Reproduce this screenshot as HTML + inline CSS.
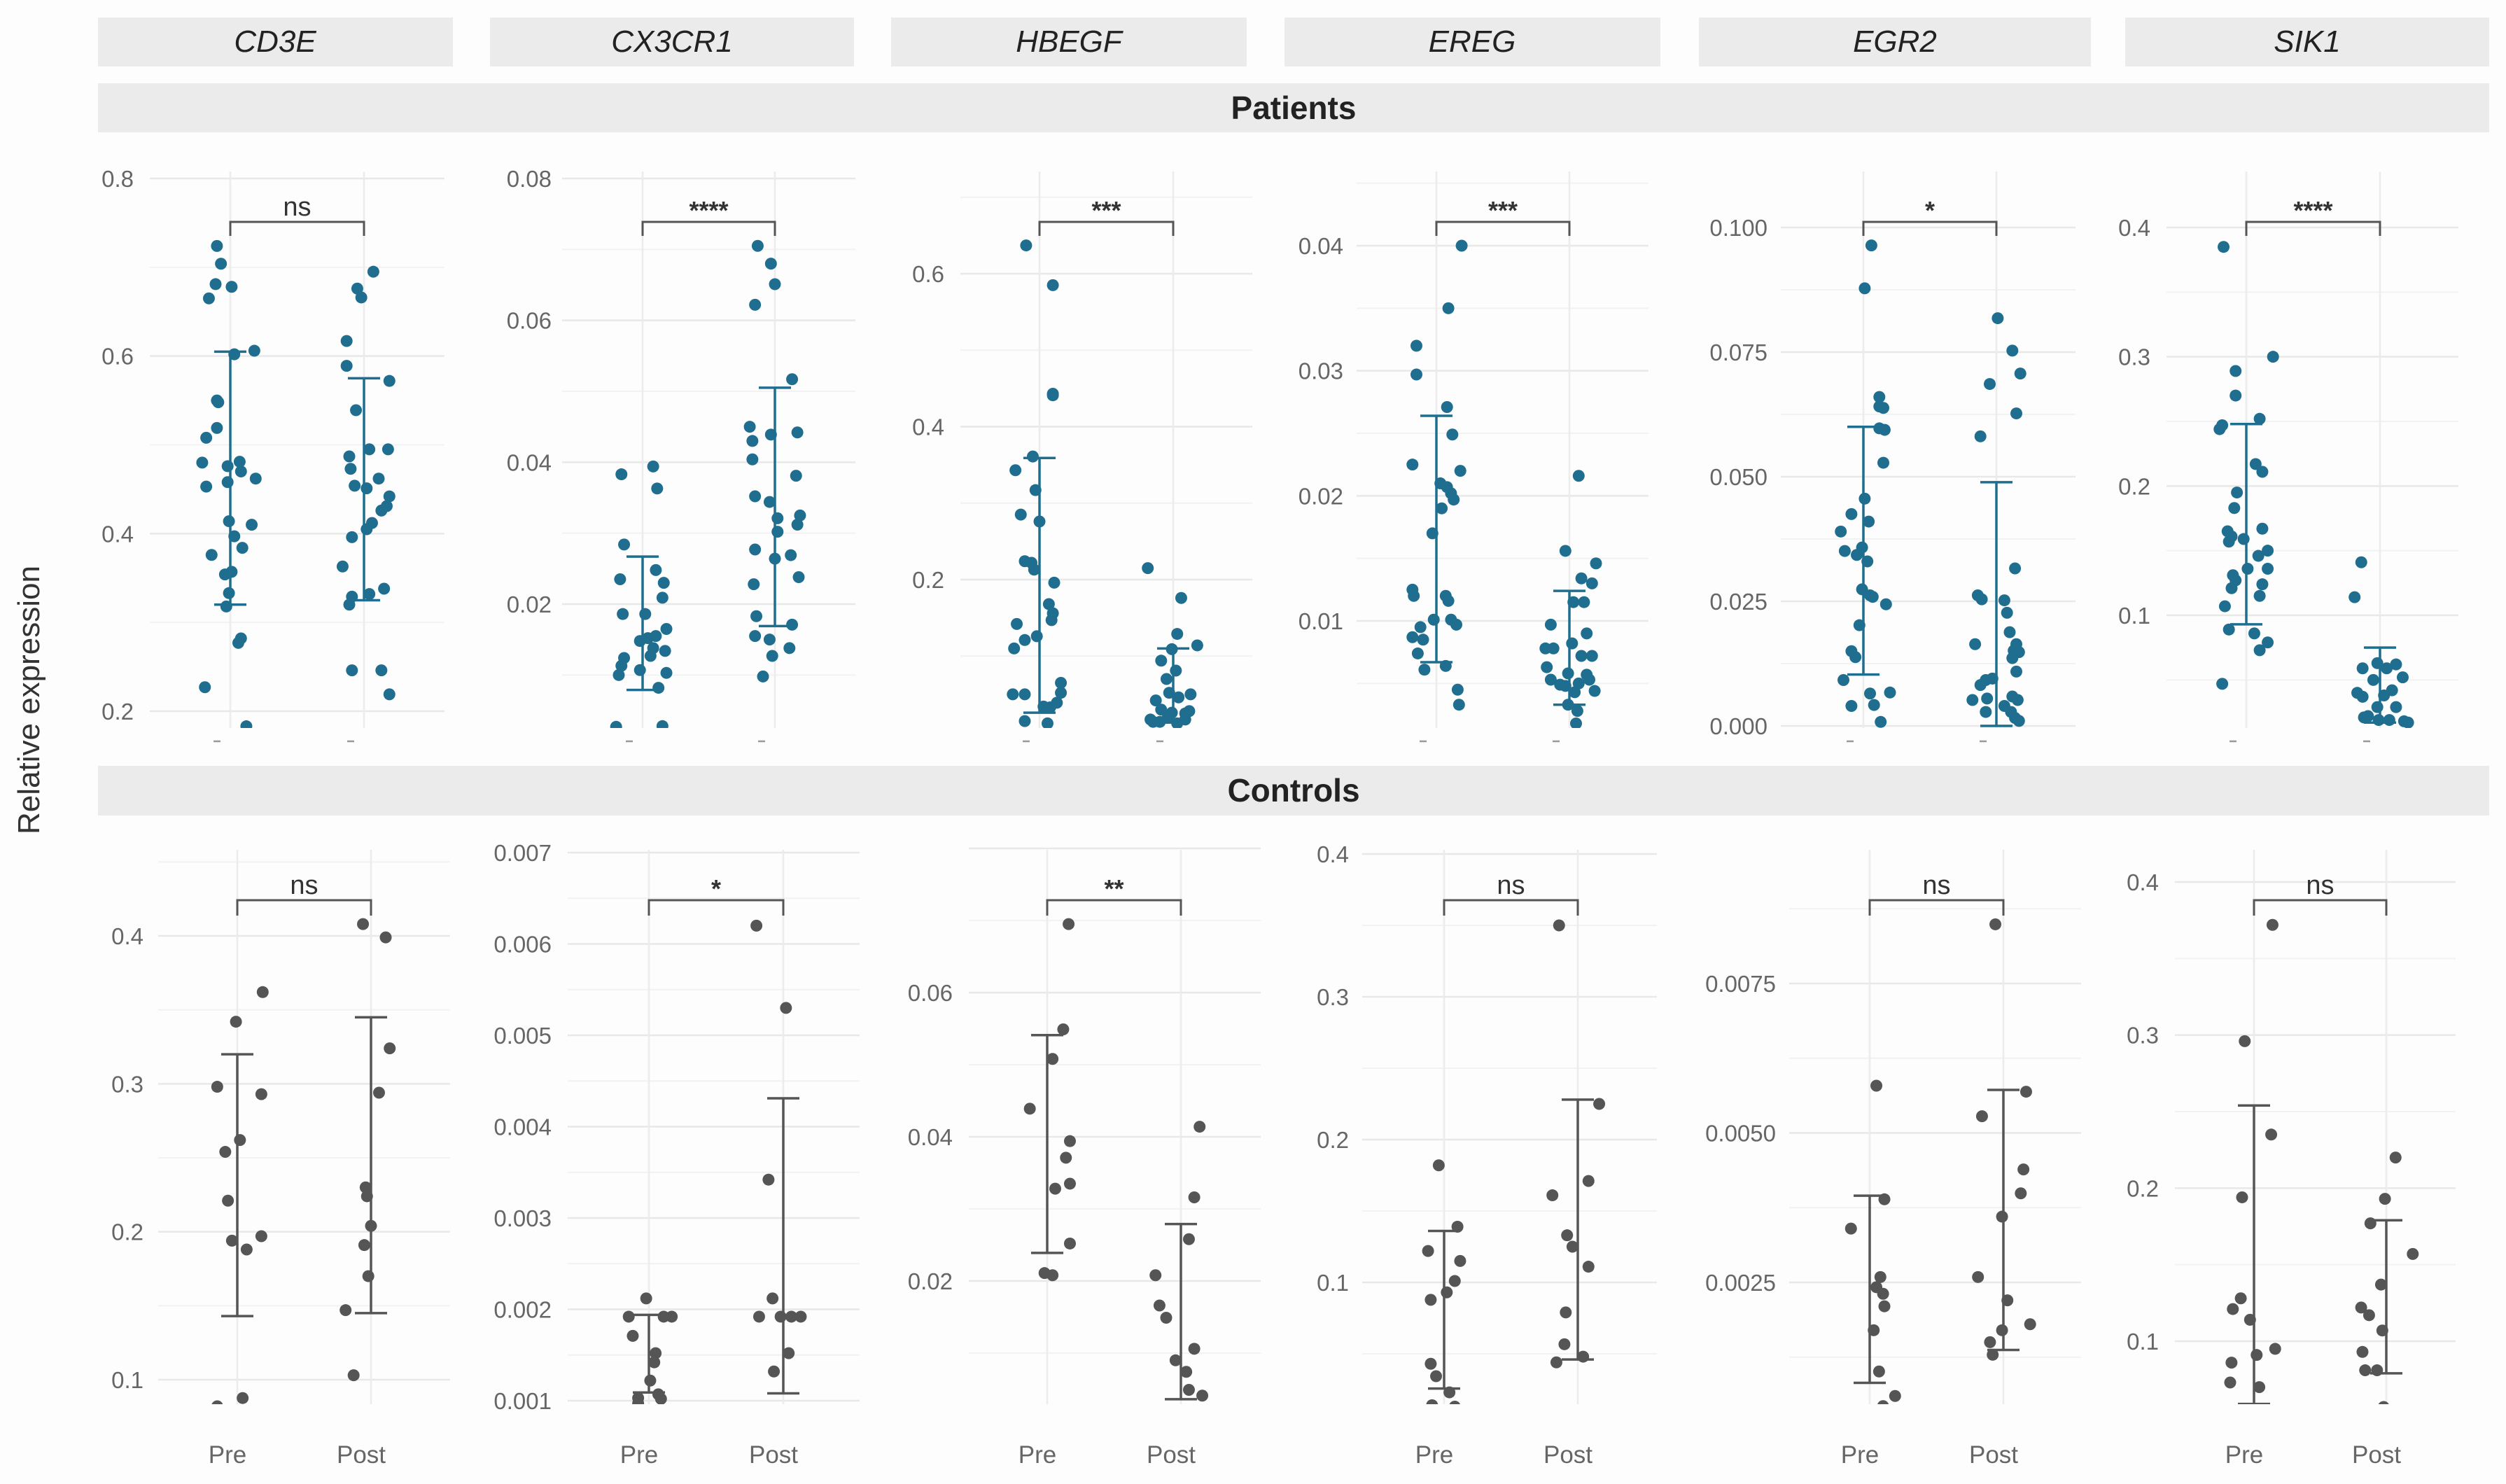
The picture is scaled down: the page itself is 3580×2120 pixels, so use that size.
<!DOCTYPE html>
<html><head><meta charset="utf-8">
<style>
html,body{margin:0;padding:0;background:#fdfdfd;}
svg{display:block;font-family:"Liberation Sans","DejaVu Sans",sans-serif;}
</style></head>
<body>
<svg id="chart" xmlns="http://www.w3.org/2000/svg" width="3580" height="2120" viewBox="0 0 3580 2120">
<rect x="0" y="0" width="3580" height="2120" fill="#fdfdfd"/>
<g>
<rect x="140" y="25" width="507" height="70" fill="#ebebeb"/>
<text x="393" y="74" text-anchor="middle" font-size="44" font-style="italic" fill="#222">CD3E</text>
<rect x="700" y="25" width="520" height="70" fill="#ebebeb"/>
<text x="960" y="74" text-anchor="middle" font-size="44" font-style="italic" fill="#222">CX3CR1</text>
<rect x="1273" y="25" width="508" height="70" fill="#ebebeb"/>
<text x="1527" y="74" text-anchor="middle" font-size="44" font-style="italic" fill="#222">HBEGF</text>
<rect x="1835" y="25" width="537" height="70" fill="#ebebeb"/>
<text x="2103" y="74" text-anchor="middle" font-size="44" font-style="italic" fill="#222">EREG</text>
<rect x="2427" y="25" width="560" height="70" fill="#ebebeb"/>
<text x="2707" y="74" text-anchor="middle" font-size="44" font-style="italic" fill="#222">EGR2</text>
<rect x="3036" y="25" width="520" height="70" fill="#ebebeb"/>
<text x="3296" y="74" text-anchor="middle" font-size="44" font-style="italic" fill="#222">SIK1</text>
<rect x="140" y="119" width="3416" height="70" fill="#ebebeb"/>
<text x="1848" y="170" text-anchor="middle" font-size="46" font-weight="bold" fill="#222">Patients</text>
<rect x="140" y="1094" width="3416" height="71" fill="#ebebeb"/>
<text x="1848" y="1145" text-anchor="middle" font-size="46" font-weight="bold" fill="#222">Controls</text>
</g>
<text x="0" y="0" transform="translate(56,1000) rotate(-90)" text-anchor="middle" font-size="44" fill="#333">Relative expression</text>
<g id="panels"></g>
</svg>
<script>
// ===== data =====
const groups = ["Pre", "Post"];
const sigLabels = ["ns","****","***","***","*","****","ns","*","**","ns","ns","ns"];
const panelNames = ["cd3e-patients","cx3cr1-patients","hbegf-patients","ereg-patients","egr2-patients","sik1-patients","cd3e-controls","cx3cr1-controls","hbegf-controls","ereg-controls","egr2-controls","sik1-controls"];
const tickValues = [
 [0.2,0.4,0.6,0.8],[0.02,0.04,0.06,0.08],[0.2,0.4,0.6],[0.01,0.02,0.03,0.04],[0,0.025,0.05,0.075,0.1],[0.1,0.2,0.3,0.4],
 [0.1,0.2,0.3,0.4],[0.001,0.002,0.003,0.004,0.005,0.006,0.007],[0.02,0.04,0.06],[0.1,0.2,0.3,0.4],[0.0025,0.005,0.0075],[0.1,0.2,0.3,0.4]];
const tickLabels = [
 ["0.2","0.4","0.6","0.8"],["0.02","0.04","0.06","0.08"],["0.2","0.4","0.6"],["0.01","0.02","0.03","0.04"],["0.000","0.025","0.050","0.075","0.100"],["0.1","0.2","0.3","0.4"],
 ["0.1","0.2","0.3","0.4"],["0.001","0.002","0.003","0.004","0.005","0.006","0.007"],["0.02","0.04","0.06"],["0.1","0.2","0.3","0.4"],["0.0025","0.0050","0.0075"],["0.1","0.2","0.3","0.4"]];

const p1PreV=[.724,.704,.681,.678,.665,.602,.606,.55,.548,.519,.508,.48,.481,.476,.47,.462,.453,.458,.414,.41,.397,.384,.376,.354,.357,.333,.318,.282,.277,.227,.183];
const p1PreJ=[-.10,-.07,-.11,.01,-.16,.03,.18,-.10,-.09,-.10,-.18,-.21,.07,-.02,.08,.19,-.18,-.02,-.01,.16,.03,.09,-.14,-.04,.01,-.01,-.03,.08,.06,-.19,.12];
const p1PostV=[.695,.676,.666,.617,.589,.572,.539,.487,.495,.495,.473,.454,.451,.462,.442,.431,.426,.412,.405,.396,.363,.338,.332,.329,.32,.246,.246,.219];
const p1PostJ=[.07,-.05,-.02,-.13,-.13,.19,-.06,-.11,.04,.18,-.10,-.07,.02,.11,.19,.17,.13,.06,.02,-.09,-.16,.15,.04,-.09,-.11,-.09,.13,.19];
const p2PreV=[.0383,.0394,.0363,.0284,.0235,.0248,.023,.0209,.0186,.0186,.0165,.0148,.0152,.0155,.0138,.0134,.0127,.0124,.0113,.01,.0107,.0103,.0082,.0027,.0028];
const p2PreJ=[-.16,.08,.11,-.14,-.17,.10,.16,.15,-.15,.02,.18,-.02,.04,.10,.08,.17,.06,-.14,-.16,-.18,-.02,.18,.12,-.2,.15];
const p2PostV=[.0705,.068,.0651,.0622,.0517,.045,.0439,.0442,.043,.0404,.0381,.0352,.0344,.0321,.0325,.0312,.0302,.0277,.0269,.0264,.0238,.0228,.0183,.0171,.0155,.015,.0138,.0127,.0098];
const p2PostJ=[-.13,-.03,0,-.15,.13,-.19,-.03,.17,-.17,-.17,.16,-.15,-.04,.02,.19,.17,.02,-.15,.12,0,.18,-.16,-.14,.13,-.15,-.04,.11,-.02,-.09];
const p3PreV=[.637,.585,.443,.441,.361,.343,.317,.285,.276,.224,.222,.213,.196,.168,.156,.147,.142,.126,.121,.11,.05,.05,.065,.052,.039,.034,.033,.015,.012];
const p3PreJ=[-.10,.10,.10,.10,-.05,-.18,-.03,-.14,0,-.11,-.06,-.04,.11,.07,.10,.09,-.17,-.02,-.11,-.19,-.20,-.11,.16,.16,.13,.03,.08,-.11,.06];
const p3PostV=[.215,.176,.129,.114,.109,.094,.081,.07,.052,.05,.042,.046,.03,.026,.025,.028,.017,.014,.012,.017,.02,.014];
const p3PostJ=[-.19,.06,.03,.18,-.01,-.09,.02,-.05,-.03,.13,-.13,.04,-.09,-.01,.09,.12,-.17,-.10,.03,.09,-.04,-.15];
const p4PreV=[.04,.035,.032,.0297,.0271,.0249,.0225,.022,.021,.0207,.0202,.0197,.019,.017,.0125,.012,.012,.0116,.0101,.0101,.0097,.0095,.0087,.0085,.0074,.0061,.0064,.0045,.0033];
const p4PreJ=[.19,.09,-.15,-.15,.08,.12,-.18,.18,.03,.08,.11,.13,.04,-.03,-.18,-.17,.07,.09,-.02,.11,.15,-.12,-.18,-.10,-.14,-.09,.07,.16,.17];
const p4PostV=[.0216,.0156,.0146,.0134,.013,.0115,.0115,.0097,.009,.0082,.0078,.0078,.0072,.0072,.0063,.0058,.0057,.0053,.0049,.005,.0053,.0048,.0043,.0044,.0033,.0028,.0018];
const p4PostJ=[.07,-.03,.20,.09,.17,.03,.11,-.14,.13,.02,-.18,-.12,.09,.17,-.17,-.01,.13,-.14,-.07,.07,.15,-.03,.04,.19,-.01,.06,.05];
const p5PreV=[.0964,.0878,.066,.0638,.0641,.0594,.0597,.0528,.0456,.0425,.041,.039,.0351,.0358,.0343,.033,.0274,.0262,.0259,.0244,.0202,.015,.0138,.0092,.0065,.0067,.004,.0042,.0008];
const p5PreJ=[.06,.01,.12,.15,.12,.16,.12,.15,.01,-.09,.04,-.17,-.14,-.01,-.05,.03,-.01,.05,.07,.17,-.03,-.09,-.06,-.15,.05,.2,-.09,.08,.13];
const p5PostV=[.0818,.0753,.0707,.0686,.0627,.0581,.0316,.0262,.0254,.0252,.0227,.0188,.0164,.0164,.0151,.0148,.0136,.0109,.0092,.0095,.0082,.0059,.0052,.0055,.0052,.004,.0028,.0028,.0016,.001];
const p5PostJ=[.01,.12,.18,-.05,.15,-.12,.14,-.14,-.11,.06,.08,.10,.15,-.16,.13,.17,.12,.15,-.08,-.03,-.12,.12,-.18,-.07,.16,.06,-.08,.11,.14,.17];
const p6PreV=[.385,.30,.289,.27,.252,.247,.244,.217,.211,.195,.183,.165,.161,.167,.159,.15,.146,.157,.136,.136,.131,.127,.124,.121,.115,.107,.089,.086,.079,.073,.047];
const p6PreJ=[-.17,.20,-.08,-.08,.10,-.18,-.20,.07,.12,-.07,-.09,-.14,-.11,.12,-.02,.16,.09,-.13,.01,.16,-.10,-.08,.12,-.11,.10,-.16,-.13,.06,.16,.10,-.18];
const p6PostV=[.141,.114,.063,.062,.059,.059,.052,.05,.04,.042,.037,.038,.029,.029,.021,.019,.019,.018,.022,.017];
const p6PostJ=[-.14,-.19,-.02,.12,-.13,.05,.17,-.05,-.17,.09,-.13,.03,-.02,.12,-.12,-.01,.07,.18,-.09,.21];
const p7PreV=[.362,.342,.298,.293,.262,.254,.221,.194,.197,.188,.0876,.082];
const p7PreJ=[.19,-.01,-.15,.18,.02,-.09,-.07,-.04,.18,.07,.04,-.15];
const p7PostV=[.408,.399,.324,.294,.230,.224,.204,.191,.170,.147,.103];
const p7PostJ=[-.06,.11,.14,.06,-.04,-.03,0,-.05,-.02,-.19,-.13];
const p8PreV=[.00212,.00192,.00192,.00192,.00171,.00152,.00142,.00122,.00103,.00102,.00097,.00107];
const p8PreJ=[-.02,-.15,.11,.17,-.12,.05,.04,.01,-.08,.09,-.08,.07];
const p8PostV=[.0062,.0053,.00342,.00212,.00192,.00192,.00192,.00192,.00152,.00132];
const p8PostJ=[-.2,.02,-.11,-.08,-.18,-.02,.06,.13,.04,-.07];
const p9PreV=[.0695,.0549,.0508,.0439,.0394,.0371,.0328,.0335,.0252,.0211,.0208];
const p9PreJ=[.16,.12,.04,-.13,.17,.14,.06,.17,.17,-.02,.04];
const p9PostV=[.0414,.0316,.0258,.0208,.0166,.0149,.0106,.009,.0074,.0049,.0041];
const p9PostJ=[.14,.10,.06,-.19,-.16,-.11,.10,-.04,.04,.06,.16];
const p10PreV=[.182,.139,.122,.115,.101,.093,.0878,.043,.0343,.023,.014,.013];
const p10PreJ=[-.04,.10,-.12,.12,.08,.02,-.10,-.10,-.06,.04,-.09,.08];
const p10PostV=[.350,.225,.171,.161,.133,.125,.111,.079,.0567,.044,.048];
const p10PostJ=[-.14,.16,.08,-.19,-.08,-.04,.08,-.09,-.10,-.16,.04];
const p11PreV=[.00579,.00389,.0034,.00259,.00242,.00231,.0021,.0017,.00101,.0006,.00043];
const p11PreJ=[.05,.11,-.14,.08,.05,.10,.11,.03,.07,.19,.10];
const p11PostV=[.00849,.00569,.00528,.00439,.00399,.0036,.00259,.0022,.0018,.0017,.0015,.00129];
const p11PostJ=[-.06,.17,-.16,.15,.13,-.01,-.19,.03,.2,-.01,-.10,-.08];
const p12PreV=[.372,.296,.235,.194,.128,.121,.114,.095,.091,.086,.073,.07];
const p12PreJ=[.14,-.07,.13,-.09,-.10,-.16,-.03,.16,.02,-.17,-.18,.04];
const p12PostV=[.22,.193,.177,.157,.137,.122,.117,.107,.093,.081,.081,.057];
const p12PostJ=[.07,-.01,-.12,.20,-.04,-.19,-.13,-.03,-.18,-.16,-.07,-.02];

const preValues=[p1PreV,p2PreV,p3PreV,p4PreV,p5PreV,p6PreV,p7PreV,p8PreV,p9PreV,p10PreV,p11PreV,p12PreV];
const preJitter=[p1PreJ,p2PreJ,p3PreJ,p4PreJ,p5PreJ,p6PreJ,p7PreJ,p8PreJ,p9PreJ,p10PreJ,p11PreJ,p12PreJ];
const postValues=[p1PostV,p2PostV,p3PostV,p4PostV,p5PostV,p6PostV,p7PostV,p8PostV,p9PostV,p10PostV,p11PostV,p12PostV];
const postJitter=[p1PostJ,p2PostJ,p3PostJ,p4PostJ,p5PostJ,p6PostJ,p7PostJ,p8PostJ,p9PostJ,p10PostJ,p11PostJ,p12PostJ];
const preErrLow=[.32,.0079,.026,.0067,.0103,.093,.143,.00109,.0239,.0257,.00082,.059];
const preErrHigh=[.605,.0267,.359,.0264,.060,.248,.320,.00194,.0541,.136,.00395,.254];
const postErrLow=[.325,.0169,.013,.0033,0,.017,.145,.00108,.0036,.046,.00137,.079];
const postErrHigh=[.575,.0505,.11,.0124,.0489,.075,.345,.00431,.0279,.228,.00572,.179];

// ===== layout (pixel geometry, not data) =====
const layout = [
 {pre:329,post:520,gx0:214,gx1:635,lbl:191,va:.8,pa:255,vb:.2,pb:1016,row:0},
 {pre:918,post:1107,gx0:803,gx1:1222,lbl:788,va:.08,pa:255,vb:.02,pb:863,row:0},
 {pre:1485,post:1676,gx0:1372,gx1:1789,lbl:1349,va:.6,pa:391,vb:.2,pb:828,row:0},
 {pre:2052,post:2242,gx0:1938,gx1:2355,lbl:1919,va:.04,pa:351,vb:.01,pb:887,row:0},
 {pre:2662,post:2852,gx0:2544,gx1:2965,lbl:2525,va:.1,pa:325,vb:0,pb:1037,row:0},
 {pre:3209,post:3400,gx0:3095,gx1:3512,lbl:3072,va:.4,pa:325,vb:.1,pb:879,row:0},
 {pre:339,post:530,gx0:226,gx1:643,lbl:205,va:.4,pa:1337,vb:.1,pb:1971,row:1},
 {pre:927,post:1119,gx0:811,gx1:1228,lbl:788,va:.007,pa:1218,vb:.001,pb:2001,row:1},
 {pre:1496,post:1687,gx0:1384,gx1:1801,lbl:1361,va:.06,pa:1418,vb:.02,pb:1830,row:1},
 {pre:2063,post:2254,gx0:1946,gx1:2367,lbl:1927,va:.4,pa:1220,vb:.1,pb:1832,row:1},
 {pre:2671,post:2862,gx0:2556,gx1:2973,lbl:2537,va:.0075,pa:1405,vb:.0025,pb:1832,row:1},
 {pre:3220,post:3409,gx0:3107,gx1:3508,lbl:3084,va:.4,pa:1260,vb:.1,pb:1916,row:1}
];
const rowGeom = [
 {top:245,bottom:1040,brY:317,brEnd:337,color:"#1f6e8f"},
 {top:1214,bottom:2006,brY:1286,brEnd:1308,color:"#555555"}
];

const NS="http://www.w3.org/2000/svg";
const root=document.getElementById("panels");
function mk(tag, attrs, parent){
  const el=document.createElementNS(NS,tag);
  for(const k in attrs) el.setAttribute(k,attrs[k]);
  parent.appendChild(el);
  return el;
}

layout.forEach((L,i)=>{
  const R=rowGeom[L.row];
  const yS=v=>L.pa+(v-L.va)*(L.pb-L.pa)/(L.vb-L.va);
  const xS=(c,j)=>L.pre+(c+j)*(L.post-L.pre);
  const g=mk("g",{},root);
  
  
  const clipId="clip"+i;
  const cp=mk("clipPath",{id:clipId},g);
  mk("rect",{x:L.gx0-30,y:R.top-120,width:L.gx1-L.gx0+60,height:R.bottom-R.top+120},cp);

  // gridlines
  const ticks=tickValues[i];
  const step=ticks[1]-ticks[0];
  const grid=mk("g",{},g);
  
  
  for(let k=-4;k<ticks.length*2+4;k++){
    const v=ticks[0]+k*step/2;
    const y=yS(v);
    if(y<R.top-2||y>R.bottom+2) continue;
    const major=(k%2===0);
    const ln=mk("line",{x1:L.gx0,x2:L.gx1,y1:y,y2:y,stroke:major?"#e8e8e8":"#f2f2f2","stroke-width":major?2.5:2},grid);
    
    
  }
  [0,1].forEach(c=>{
    const ln=mk("line",{x1:xS(c,0),x2:xS(c,0),y1:R.top,y2:R.bottom,stroke:"#ececec","stroke-width":2.5},grid);
    
    
  });

  // tick labels
  ticks.forEach((v,k)=>{
    const t=mk("text",{x:L.lbl,y:yS(v)+12,"text-anchor":"end","font-size":33,fill:"#666"},g);
    t.textContent=tickLabels[i][k];
    
    
  });

  // x labels
  groups.forEach((gname,c)=>{
    if(L.row===1){
      const t=mk("text",{x:xS(c,0)-14,y:2090,"text-anchor":"middle","font-size":35,fill:"#666"},g);
      t.textContent=gname;
      
      
    } else {
      const d=mk("line",{x1:xS(c,0)-24,x2:xS(c,0)-14,y1:1059,y2:1059,stroke:"#999","stroke-width":2.5},g);
      
      
    }
  });

  // points & error bars (clipped)
  const marks=mk("g",{"clip-path":"url(#"+clipId+")"},g);
  
  
  const sets=[[preValues[i],preJitter[i]],[postValues[i],postJitter[i]]];
  sets.forEach((s,c)=>{
    s[0].forEach((v,k)=>{
      const pt=mk("circle",{cx:xS(c,s[1][k]),cy:yS(v),r:8.5,fill:R.color},marks);
      
      
    });
  });
  const errs=[[preErrLow[i],preErrHigh[i]],[postErrLow[i],postErrHigh[i]]];
  errs.forEach((e,c)=>{
    const x=xS(c,0);
    const eg=mk("g",{stroke:R.color,"stroke-width":3.5,fill:"none"},marks);
    
    
    mk("line",{x1:x,x2:x,y1:yS(e[0]),y2:yS(e[1])},eg);
    mk("line",{x1:x-23,x2:x+23,y1:yS(e[0]),y2:yS(e[0])},eg);
    mk("line",{x1:x-23,x2:x+23,y1:yS(e[1]),y2:yS(e[1])},eg);
  });

  // significance bracket
  const x0=xS(0,0), x1=xS(1,0);
  const br=mk("path",{d:`M${x0},${R.brEnd} L${x0},${R.brY} L${x1},${R.brY} L${x1},${R.brEnd}`,stroke:"#555",fill:"none","stroke-width":3},g);
  
  
  const lab=sigLabels[i];
  const isNs=lab==="ns";
  const st=mk("text",{x:(x0+x1)/2,y:isNs?R.brY-9:R.brY-4,"text-anchor":"middle","font-size":isNs?38:36,"font-weight":isNs?"normal":"bold",fill:"#333"},g);
  st.textContent=lab;
  
  
});
</script>
</body></html>
